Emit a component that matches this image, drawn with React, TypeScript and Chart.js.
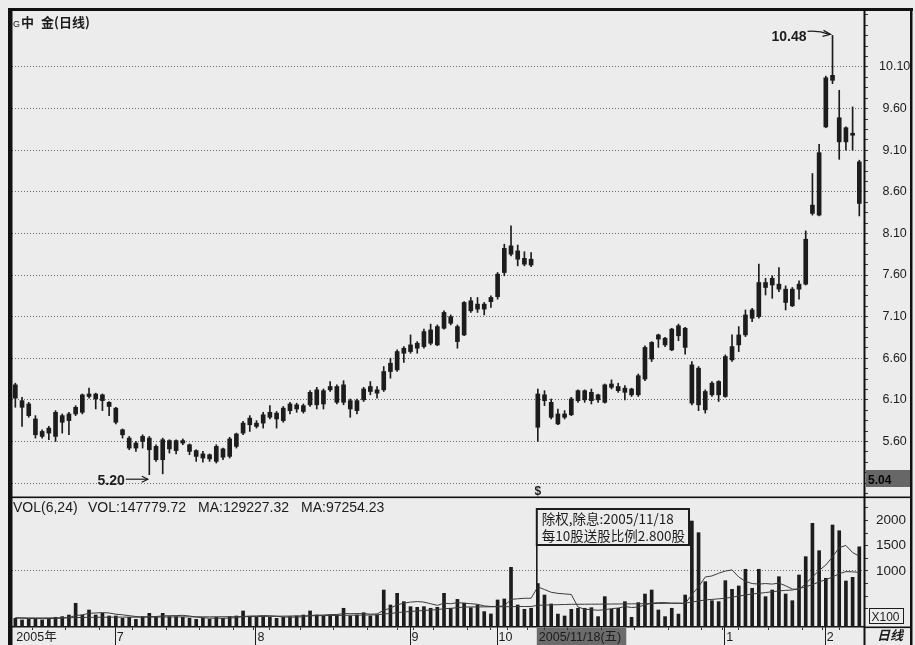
import React, { useEffect, useRef } from "react";
import { Chart, registerables } from "chart.js";
Chart.register(...registerables);

const FONT = '"Liberation Sans", Arial, "Noto Sans CJK SC", sans-serif';
const CJK = '"Noto Sans CJK SC", "Liberation Sans", sans-serif';
const INK = "#1c1c1c";
const PAPER = "#ececec";
const GRID = "#6a6a6a";

// ---- daily candles (price, yuan) ----
const OPEN = [
  6.28, 6.09, 6.05, 5.87, 5.72, 5.70, 5.66, 5.91, 5.85, 5.93,
  5.95, 6.17, 6.17, 6.16, 6.07, 6.00, 5.74, 5.64, 5.58, 5.60,
  5.64, 5.54, 5.62, 5.61, 5.61, 5.61, 5.56, 5.49, 5.45, 5.44,
  5.36, 5.41, 5.42, 5.54, 5.70, 5.80, 5.82, 5.82, 5.95, 5.94,
  5.85, 5.97, 6.04, 5.96, 6.04, 6.22, 6.05, 6.22, 6.26, 6.07,
  6.09, 5.97, 6.10, 6.20, 6.22, 6.22, 6.44, 6.46, 6.66, 6.76,
  6.78, 6.74, 6.94, 6.76, 6.96, 7.10, 6.98, 6.88, 7.17, 7.25,
  7.19, 7.28, 7.34, 7.63, 7.95, 7.89, 7.80, 7.79, 6.17, 6.16,
  6.07, 5.93, 5.89, 5.92, 6.09, 6.21, 6.19, 6.16, 6.07, 6.25,
  6.26, 6.24, 6.23, 6.16, 6.35, 6.59, 6.88, 6.76, 6.70, 6.99,
  6.96, 6.52, 6.48, 5.98, 6.16, 6.32, 6.14, 6.58, 6.76, 6.88,
  7.08, 7.10, 7.51, 7.48, 7.49, 7.43, 7.23, 7.43, 7.49, 8.34,
  8.32, 9.38, 10.00, 9.49, 9.37, 9.29, 8.96,
];
const HIGH = [
  6.30, 6.13, 6.07, 5.91, 5.74, 5.78, 5.97, 5.93, 5.95, 6.03,
  6.17, 6.24, 6.18, 6.17, 6.08, 6.01, 5.75, 5.66, 5.60, 5.68,
  5.66, 5.56, 5.64, 5.62, 5.62, 5.63, 5.57, 5.50, 5.48, 5.45,
  5.56, 5.52, 5.65, 5.70, 5.84, 5.91, 5.85, 5.95, 6.03, 5.96,
  6.02, 6.07, 6.06, 6.05, 6.21, 6.25, 6.23, 6.32, 6.28, 6.33,
  6.11, 6.11, 6.25, 6.32, 6.26, 6.50, 6.60, 6.70, 6.74, 6.88,
  6.80, 6.95, 7.01, 7.00, 7.17, 7.12, 7.00, 7.28, 7.33, 7.33,
  7.27, 7.35, 7.63, 7.97, 8.19, 7.96, 7.88, 7.87, 6.23, 6.21,
  6.11, 5.99, 5.97, 6.13, 6.22, 6.22, 6.23, 6.17, 6.29, 6.34,
  6.30, 6.27, 6.24, 6.41, 6.75, 6.80, 6.89, 6.85, 6.96, 7.01,
  6.97, 6.56, 6.50, 6.22, 6.32, 6.33, 6.64, 6.88, 6.98, 7.18,
  7.20, 7.73, 7.56, 7.59, 7.69, 7.47, 7.45, 7.53, 8.13, 8.82,
  9.17, 9.99, 10.48, 9.82, 9.38, 9.62, 8.98,
];
const LOW = [
  6.01, 5.78, 5.89, 5.64, 5.64, 5.62, 5.60, 5.70, 5.68, 5.91,
  5.93, 6.12, 5.99, 5.97, 5.91, 5.81, 5.64, 5.50, 5.48, 5.52,
  5.20, 5.36, 5.21, 5.46, 5.45, 5.56, 5.44, 5.36, 5.35, 5.36,
  5.34, 5.38, 5.40, 5.52, 5.68, 5.72, 5.76, 5.76, 5.87, 5.76,
  5.83, 5.93, 5.95, 5.94, 6.02, 5.99, 5.99, 6.20, 6.05, 6.04,
  5.89, 5.93, 6.08, 6.16, 6.12, 6.20, 6.36, 6.44, 6.55, 6.66,
  6.66, 6.72, 6.76, 6.75, 6.95, 7.00, 6.72, 6.87, 7.15, 7.15,
  7.12, 7.21, 7.31, 7.59, 7.83, 7.71, 7.71, 7.70, 5.60, 6.03,
  5.87, 5.80, 5.87, 5.91, 6.07, 6.07, 6.05, 6.07, 6.06, 6.23,
  6.19, 6.10, 6.14, 6.14, 6.33, 6.56, 6.73, 6.74, 6.69, 6.81,
  6.65, 6.04, 5.97, 5.94, 6.14, 6.08, 6.13, 6.56, 6.68, 6.86,
  7.04, 7.08, 7.36, 7.32, 7.40, 7.18, 7.22, 7.31, 7.48, 8.32,
  8.31, 9.37, 9.90, 8.99, 9.10, 9.10, 8.31,
];
const CLOSE = [
  6.12, 6.01, 5.91, 5.68, 5.66, 5.76, 5.95, 5.83, 5.93, 6.01,
  6.16, 6.14, 6.11, 6.09, 6.02, 5.83, 5.68, 5.52, 5.52, 5.66,
  5.50, 5.38, 5.38, 5.51, 5.49, 5.58, 5.48, 5.42, 5.40, 5.39,
  5.54, 5.51, 5.63, 5.69, 5.82, 5.88, 5.78, 5.92, 5.89, 5.87,
  6.00, 6.05, 5.99, 6.03, 6.19, 6.04, 6.21, 6.26, 6.07, 6.28,
  5.99, 6.09, 6.23, 6.26, 6.18, 6.44, 6.54, 6.68, 6.72, 6.68,
  6.72, 6.92, 6.78, 6.98, 7.15, 7.02, 6.80, 7.27, 7.29, 7.19,
  7.25, 7.33, 7.61, 7.92, 7.85, 7.79, 7.73, 7.72, 5.77, 6.09,
  5.89, 5.81, 5.93, 6.11, 6.21, 6.10, 6.09, 6.10, 6.28, 6.29,
  6.21, 6.19, 6.16, 6.39, 6.73, 6.79, 6.83, 6.84, 6.95, 6.87,
  6.73, 6.06, 6.04, 6.20, 6.30, 6.16, 6.62, 6.74, 6.88, 7.12,
  7.18, 7.51, 7.45, 7.56, 7.43, 7.27, 7.43, 7.49, 8.03, 8.44,
  9.07, 9.97, 9.94, 9.20, 9.20, 9.28, 8.46,
];

// ---- volume (x100 shares) and its moving averages ----
const VOLUME = [
  64, 32, 45, 64, 32, 64, 85, 98, 130, 362,
  130, 229, 130, 163, 111, 111, 64, 85, 45, 98,
  163, 85, 163, 98, 98, 85, 64, 45, 64, 45,
  85, 64, 98, 111, 210, 98, 85, 98, 85, 64,
  85, 98, 111, 130, 210, 130, 111, 130, 130, 263,
  111, 130, 176, 111, 130, 624, 328, 559, 394, 295,
  282, 295, 263, 282, 559, 263, 439, 364, 275, 328,
  197, 151, 427, 447, 1072, 328, 243, 263, 752, 525,
  348, 148, 111, 243, 263, 263, 275, 98, 493, 243,
  263, 394, 85, 375, 545, 624, 229, 98, 263, 148,
  525, 1988, 1757, 789, 413, 394, 809, 638, 704, 1034,
  658, 1034, 493, 624, 887, 545, 413, 921, 1283, 1942,
  1401, 856, 1909, 1796, 802, 875, 1478,
];
const MA6 = [
  70, 66, 60, 62, 58, 60, 63, 70, 80, 120,
  132, 165, 170, 178, 170, 146, 134, 117, 100, 90,
  100, 100, 112, 117, 118, 124, 110, 90, 77, 66,
  67, 66, 70, 79, 100, 110, 112, 119, 115, 106,
  91, 87, 90, 95, 120, 127, 130, 138, 140, 160,
  156, 158, 157, 147, 151, 224, 267, 331, 364, 385,
  396, 385, 353, 321, 364, 353, 375, 364, 353, 342,
  310, 299, 299, 310, 439, 450, 461, 461, 687, 633,
  579, 558, 547, 536, 288, 245, 235, 224, 235, 256,
  267, 299, 278, 288, 331, 364, 375, 375, 364, 364,
  353, 536, 687, 881, 902, 956, 999, 1021, 881, 795,
  752, 741, 752, 741, 762, 708, 644, 633, 752, 881,
  1010, 1118, 1279, 1462, 1505, 1365, 1292,
];
const MA24 = [
  75, 74, 73, 72, 72, 73, 74, 75, 76, 80,
  82, 84, 85, 86, 87, 88, 88, 88, 87, 87,
  88, 89, 90, 91, 92, 93, 93, 94, 94, 94,
  95, 95, 96, 96, 97, 98, 100, 102, 104, 106,
  108, 110, 112, 113, 114, 116, 118, 120, 122, 124,
  126, 127, 129, 131, 133, 150, 160, 178, 190, 200,
  210, 220, 228, 236, 255, 262, 275, 288, 289, 290,
  291, 292, 293, 294, 295, 297, 298, 299, 321, 326,
  330, 334, 338, 342, 342, 343, 344, 345, 346, 347,
  348, 350, 351, 352, 354, 356, 358, 360, 362, 363,
  364, 385, 407, 428, 439, 450, 461, 482, 504, 525,
  547, 558, 574, 590, 606, 617, 624, 655, 687, 730,
  784, 827, 881, 945, 988, 983, 972,
];

// ---- axes ----
const PRICE_MIN = 4.932;
const PRICE_MAX = 10.773;
const PRICE_LABELS = [5.6, 6.1, 6.6, 7.1, 7.6, 8.1, 8.6, 9.1, 9.6, 10.1];
const PRICE_GRID = [5.1, 5.6, 6.1, 6.6, 7.1, 7.6, 8.1, 8.6, 9.1, 9.6, 10.1];
const PRICE_TICK_STEP = 0.125;
const VOL_MIN = -107;
const VOL_MAX = 2423;
const VOL_LABELS = [1000, 1500, 2000];
const VOL_GRID = [1000];
const VOL_TICK_STEP = 250;
const X_MIN = -0.5;
const X_MAX = 126.7;
const X_LABEL_INDEX = [0, 15, 36, 59, 72, 78, 106, 121];
const X_LABEL_TEXT = ["2005年", "7", "8", "9", "10", "2005/11/18(五)", "1", "2"];
const X_MINOR_EVERY = 5;

// ---- texts ----
const TITLE_G = "G";
const TITLE_A = "中";
const TITLE_B = "金(日线)";
const VOL_HEADER = ["VOL(6,24)", "VOL:147779.72", "MA:129227.32", "MA:97254.23"];
const HIGH_NOTE_INDEX = 122;
const HIGH_NOTE_VALUE = 10.48;
const LOW_NOTE_INDEX = 20;
const LOW_NOTE_VALUE = 5.2;
const EX_INDEX = 78;
const EX_LINES = ["除权,除息:2005/11/18", "每10股送股比例2.800股"];
const LAST_TAG = "5.04";

const same = (a: number, b: number) => Math.abs(a - b) < 1e-6;

function makeTicks(from: number, to: number, step: number) {
  const out: { value: number }[] = [];
  for (let v = from; v <= to + 1e-9; v += step) out.push({ value: +v.toFixed(4) });
  return out;
}

const pricePlugin = {
  id: "priceNotes",
  afterDraw(chart: any) {
    const { ctx } = chart;
    const xs = chart.scales.x;
    const ys = chart.scales.y;
    ctx.save();
    ctx.fillStyle = INK;
    ctx.strokeStyle = INK;
    ctx.textBaseline = "alphabetic";
    // title
    ctx.textAlign = "left";
    ctx.font = `9px ${FONT}`;
    ctx.fillText(TITLE_G, 13, 27);
    ctx.font = `bold 13px ${CJK}`;
    ctx.fillText(TITLE_A, 21, 27);
    ctx.fillText(TITLE_B, 41, 27);

    // high note
    const hx = xs.getPixelForValue(HIGH_NOTE_INDEX) - 2;
    const hy = ys.getPixelForValue(HIGH_NOTE_VALUE) - 1;
    ctx.font = `bold 14px ${FONT}`;
    ctx.textAlign = "right";
    ctx.fillText(HIGH_NOTE_VALUE.toFixed(2), hx - 24, hy + 7);
    ctx.lineWidth = 1.2;
    ctx.beginPath();
    ctx.moveTo(hx - 23, hy - 3);
    ctx.quadraticCurveTo(hx - 12, hy - 4, hx - 1, hy);
    ctx.stroke();
    ctx.beginPath();
    ctx.moveTo(hx - 7, hy - 4);
    ctx.lineTo(hx, hy);
    ctx.lineTo(hx - 8, hy + 2);
    ctx.stroke();

    // low note
    const lx = xs.getPixelForValue(LOW_NOTE_INDEX) - 1.5;
    const ly = ys.getPixelForValue(LOW_NOTE_VALUE) + 4.5;
    ctx.fillText(LOW_NOTE_VALUE.toFixed(2), lx - 23, ly + 6);
    ctx.beginPath();
    ctx.moveTo(lx - 22, ly);
    ctx.lineTo(lx, ly);
    ctx.stroke();
    ctx.beginPath();
    ctx.moveTo(lx - 6, ly - 3);
    ctx.lineTo(lx, ly);
    ctx.lineTo(lx - 6, ly + 3);
    ctx.stroke();

    // ex-right marker
    ctx.textAlign = "center";
    ctx.font = `bold 12px ${FONT}`;
    ctx.fillText("$", xs.getPixelForValue(EX_INDEX), chart.chartArea.bottom - 2);

    // last tag box on the price axis
    const ax = ys.left + 2;
    const by = chart.chartArea.bottom - 27;
    ctx.fillStyle = "#676767";
    ctx.fillRect(ax, by, ys.right - ax, 17);
    ctx.fillStyle = "#050505";
    ctx.textAlign = "left";
    ctx.font = `bold 12px ${FONT}`;
    ctx.fillText(LAST_TAG, ax + 2, by + 14);
    ctx.restore();
  },
};

const volPlugin = {
  id: "volNotes",
  beforeDraw(chart: any) {
    const { ctx } = chart;
    const xs = chart.scales.x;
    const bx = xs.getPixelForValue(EX_INDEX) - 1;
    ctx.save();
    ctx.font = `12.5px ${FONT}`;
    const w = ctx.measureText(X_LABEL_TEXT[X_LABEL_INDEX.indexOf(EX_INDEX)]).width;
    ctx.fillStyle = "#6c6c6c";
    ctx.fillRect(bx, xs.top + 1, w + 7, xs.bottom - xs.top);
    ctx.restore();
  },
  afterDraw(chart: any) {
    const { ctx } = chart;
    const xs = chart.scales.x;
    const ys = chart.scales.y;
    const area = chart.chartArea;
    ctx.save();
    ctx.fillStyle = INK;
    ctx.strokeStyle = INK;
    ctx.textBaseline = "alphabetic";
    ctx.textAlign = "left";

    // header
    ctx.font = `14px ${FONT}`;
    const hxs = [13, 88, 198, 301];
    VOL_HEADER.forEach((t, i) => ctx.fillText(t, hxs[i], area.top + 12.5));

    // ex-right info box
    const bx = xs.getPixelForValue(EX_INDEX) - 1;
    ctx.font = `13.5px ${CJK}`;
    const tw = Math.max(...EX_LINES.map((t) => ctx.measureText(t).width));
    const top = area.top + 10;
    const bw = tw + 9;
    ctx.fillStyle = PAPER;
    ctx.fillRect(bx, top, bw, 36);
    ctx.lineWidth = 2;
    ctx.strokeRect(bx, top, bw, 36);
    ctx.fillStyle = INK;
    ctx.fillText(EX_LINES[0], bx + 5, top + 15);
    ctx.fillText(EX_LINES[1], bx + 5, top + 32);
    ctx.lineWidth = 1.6;
    ctx.beginPath();
    ctx.moveTo(bx, top + 36);
    ctx.lineTo(bx, area.bottom);
    ctx.stroke();

    // separators in the date band
    ctx.lineWidth = 1;
    X_LABEL_INDEX.forEach((i) => {
      if (i === 0 || i === EX_INDEX) return;
      const px = Math.round(xs.getPixelForValue(i)) - 0.5;
      ctx.beginPath();
      ctx.moveTo(px, xs.top);
      ctx.lineTo(px, xs.bottom);
      ctx.stroke();
    });

    // X100 box
    const rx = ys.left + 5.5;
    ctx.lineWidth = 1;
    ctx.strokeRect(rx, area.bottom - 18.5, 34, 15);
    ctx.font = `12px ${FONT}`;
    ctx.fillText("X100", rx + 2, area.bottom - 6.5);

    // 日线
    ctx.font = `italic bold 13px ${CJK}`;
    ctx.fillText("日线", ys.left + 13, xs.bottom - 5);

    // frame
    ctx.fillStyle = "#111";
    ctx.fillRect(8, 8, 905, 3);
    ctx.fillRect(8, 8, 4.5, 637);
    ctx.fillRect(910, 8, 2.5, 637);
    ctx.fillRect(863.5, 8, 2, 637);
    ctx.fillRect(12, area.top - 2.5, 900, 1.6);
    ctx.fillRect(864, area.bottom - 0.5, 48, 1.6);
    ctx.restore();
  },
};

export default function App() {
  const priceRef = useRef<HTMLCanvasElement>(null);
  const volRef = useRef<HTMLCanvasElement>(null);

  useEffect(() => {
    Chart.defaults.font.family = FONT;
    const idx = OPEN.map((_, i) => i);

    const price = new Chart(priceRef.current as HTMLCanvasElement, {
      type: "bar",
      data: {
        datasets: [
          {
            label: "body",
            data: idx.map((i) => ({ x: i, y: [OPEN[i], CLOSE[i]] })) as any,
            backgroundColor: INK,
            barThickness: 4,
            minBarLength: 2,
            grouped: false,
            order: 0,
          },
          {
            label: "wick",
            data: idx.map((i) => ({ x: i, y: [LOW[i], HIGH[i]] })) as any,
            backgroundColor: INK,
            barThickness: 1,
            grouped: false,
            order: 1,
          },
        ],
      },
      options: {
        animation: false,
        responsive: false,
        devicePixelRatio: 1,
        events: [],
        layout: { padding: { left: 12, top: 11, right: 3, bottom: 148 } },
        plugins: { legend: { display: false }, tooltip: { enabled: false } },
        scales: {
          x: { type: "linear", min: X_MIN, max: X_MAX, offset: false, display: false },
          y: {
            position: "right",
            min: PRICE_MIN,
            max: PRICE_MAX,
            afterBuildTicks: (s: any) => {
              s.ticks = makeTicks(4.975, 10.725, PRICE_TICK_STEP);
            },
            afterFit: (s: any) => {
              s.width = 48;
              s.paddingTop = 0;
              s.paddingBottom = 0;
            },
            ticks: {
              autoSkip: false,
              callback: (v: any) => (PRICE_LABELS.some((l) => same(l, +v)) ? (+v).toFixed(2) : ""),
              color: INK,
              font: { size: 12.5 },
              padding: 11,
              crossAlign: "center",
            },
            grid: {
              color: (c: any) => (c.tick && PRICE_GRID.some((g) => same(g, c.tick.value)) ? GRID : "rgba(0,0,0,0)"),
              tickColor: "#333",
              tickLength: 4,
              lineWidth: 1,
            },
            border: { display: false, dash: [1, 2] },
          },
        },
      },
      plugins: [pricePlugin],
    } as any);

    const vol = new Chart(volRef.current as HTMLCanvasElement, {
      type: "bar",
      data: {
        datasets: [
          {
            type: "line",
            label: "MA6",
            data: idx.map((i) => ({ x: i, y: MA6[i] })),
            borderColor: "#3a3a3a",
            borderWidth: 1,
            pointRadius: 0,
            tension: 0,
            order: 0,
          },
          {
            type: "line",
            label: "MA24",
            data: idx.map((i) => ({ x: i, y: MA24[i] })),
            borderColor: "#3a3a3a",
            borderWidth: 1,
            pointRadius: 0,
            tension: 0,
            order: 0,
          },
          {
            type: "bar",
            label: "VOL",
            data: idx.map((i) => ({ x: i, y: VOLUME[i] })),
            backgroundColor: INK,
            barThickness: 3,
            base: VOL_MIN,
            grouped: false,
            order: 1,
          },
        ],
      },
      options: {
        animation: false,
        responsive: false,
        devicePixelRatio: 1,
        events: [],
        layout: { padding: { left: 12, top: 499, right: 3, bottom: 0 } },
        plugins: { legend: { display: false }, tooltip: { enabled: false } },
        scales: {
          x: {
            type: "linear",
            position: "bottom",
            min: X_MIN,
            max: X_MAX,
            offset: false,
            afterBuildTicks: (s: any) => {
              const set = new Set<number>(X_LABEL_INDEX);
              for (let i = 0; i <= 125; i += X_MINOR_EVERY) set.add(i);
              s.ticks = Array.from(set)
                .sort((a, b) => a - b)
                .map((v) => ({ value: v }));
            },
            afterFit: (s: any) => {
              s.height = 18;
              s.paddingLeft = 0;
              s.paddingRight = 0;
            },
            ticks: {
              autoSkip: false,
              maxRotation: 0,
              minRotation: 0,
              align: "start",
              labelOffset: 1,
              padding: 0,
              color: INK,
              font: { size: 12.5 },
              callback: (v: any) => {
                const k = X_LABEL_INDEX.indexOf(+v);
                return k >= 0 ? X_LABEL_TEXT[k] : "";
              },
            },
            grid: { drawOnChartArea: false, tickLength: 3, tickColor: "#333" },
            border: { display: true, color: "#111", width: 1.6 },
          },
          y: {
            position: "right",
            min: VOL_MIN,
            max: VOL_MAX,
            afterBuildTicks: (s: any) => {
              s.ticks = makeTicks(250, 2250, VOL_TICK_STEP);
            },
            afterFit: (s: any) => {
              s.width = 48;
              s.paddingTop = 0;
              s.paddingBottom = 0;
            },
            ticks: {
              autoSkip: false,
              callback: (v: any) => (VOL_LABELS.some((l) => same(l, +v)) ? String(v) : ""),
              color: INK,
              font: { size: 13.5 },
              padding: 8,
              crossAlign: "near",
            },
            grid: {
              color: (c: any) => (c.tick && VOL_GRID.some((g) => same(g, c.tick.value)) ? GRID : "rgba(0,0,0,0)"),
              tickColor: "#333",
              tickLength: 4,
            },
            border: { display: false, dash: [1, 2] },
          },
        },
      },
      plugins: [volPlugin],
    } as any);

    return () => {
      price.destroy();
      vol.destroy();
    };
  }, []);

  const cs: React.CSSProperties = { position: "absolute", left: 0, top: 0, width: 915, height: 645 };
  return (
    <div style={{ position: "absolute", left: 0, top: 0, width: 915, height: 645, background: PAPER, overflow: "hidden" }}>
      <canvas ref={priceRef} width={915} height={645} style={cs} />
      <canvas ref={volRef} width={915} height={645} style={cs} />
    </div>
  );
}
